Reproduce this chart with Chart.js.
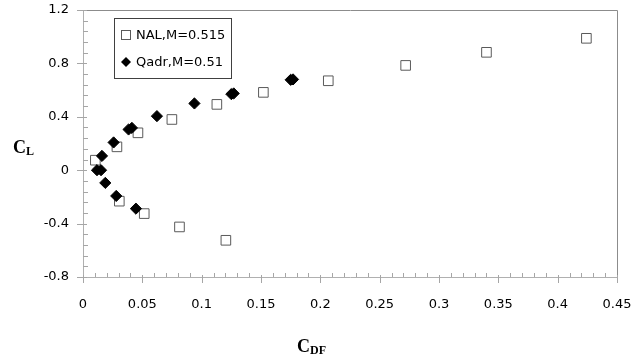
<!DOCTYPE html>
<html>
<head>
<meta charset="utf-8">
<script src="https://cdn.jsdelivr.net/npm/chart.js@4"></script>
<style>
  body { margin: 0; background: #fff; }
  #wrap { width: 644px; height: 360px; }
</style>
</head>
<body>
<div id="wrap"><canvas id="cl" width="644" height="360"></canvas></div>
<script>
// NAL, M=0.515 (open squares)
const nalCdf = [0.1204, 0.0813, 0.0516, 0.0306, 0.0104, 0.0286, 0.0463, 0.0749, 0.1128, 0.152, 0.2067, 0.2719, 0.340, 0.4242];
const nalCl  = [-0.525, -0.425, -0.325, -0.232, 0.075, 0.175, 0.28, 0.38, 0.493, 0.583, 0.67, 0.785, 0.883, 0.988];

// Qadr, M=0.51 (filled diamonds)
const qadrCdf = [0.0446, 0.028, 0.0188, 0.0118, 0.0152, 0.016, 0.0258, 0.0384, 0.0412, 0.0623, 0.0939, 0.125, 0.127, 0.175, 0.177];
const qadrCl  = [-0.288, -0.193, -0.095, 0.0, 0.0, 0.107, 0.208, 0.305, 0.317, 0.405, 0.50, 0.57, 0.575, 0.677, 0.68];

const seriesNames = ['NAL,M=0.515', 'Qadr,M=0.51'];

// axis ranges / ticks
const xMin = 0, xMax = 0.45, xMinor = 0.01, xMajor = 0.05;
const yMin = -0.8, yMax = 1.2, yMinor = 0.08, yMajor = 0.4;

const toPoints = (xs, ys) => xs.map((x, i) => ({ x: x, y: ys[i] }));
const isMajor = (v, step) => Math.abs(v / step - Math.round(v / step)) < 1e-6;
const fmt = v => String(parseFloat(v.toFixed(2)));

// draws ticks, plot frame, legend and the subscript axis titles
const excelLook = {
  id: 'excelLook',
  afterDraw(chart) {
    const ctx = chart.ctx;
    const a = chart.chartArea;
    const xs = chart.scales.x, ys = chart.scales.y;
    ctx.save();

    // top + right frame
    ctx.strokeStyle = '#8c8c8c';
    ctx.lineWidth = 1;
    ctx.beginPath();
    ctx.moveTo(Math.round(a.left) + 0.5, Math.round(a.top) + 0.5);
    ctx.lineTo(Math.round(a.right) + 0.5, Math.round(a.top) + 0.5);
    ctx.lineTo(Math.round(a.right) + 0.5, Math.round(a.bottom) + 0.5);
    ctx.stroke();

    // tick marks
    ctx.strokeStyle = '#a6a6a6';
    ctx.beginPath();
    xs.ticks.forEach(t => {
      const px = Math.round(xs.getPixelForValue(t.value)) + 0.5;
      const by = Math.round(a.bottom);
      if (isMajor(t.value, xMajor)) { ctx.moveTo(px, by - 2); ctx.lineTo(px, by + 6); }
      else { ctx.moveTo(px, by - 4); ctx.lineTo(px, by); }
    });
    ys.ticks.forEach(t => {
      const py = Math.round(ys.getPixelForValue(t.value)) + 0.5;
      const lx = Math.round(a.left);
      if (isMajor(t.value, yMajor)) { ctx.moveTo(lx - 6, py); ctx.lineTo(lx + 4, py); }
      else { ctx.moveTo(lx, py); ctx.lineTo(lx + 5, py); }
    });
    ctx.stroke();

    // legend box
    const lx = a.left + 31, ly = a.top + 8, lw = 117, lh = 60;
    ctx.fillStyle = '#fff';
    ctx.fillRect(lx, ly, lw, lh);
    ctx.strokeStyle = '#404040';
    ctx.strokeRect(Math.round(lx) + 0.5, Math.round(ly) + 0.5, lw, lh);
    ctx.font = '13px "DejaVu Sans"';
    ctx.textBaseline = 'middle';
    ctx.fillStyle = '#000';
    const rows = [ly + 17, ly + 44];
    chart.data.datasets.forEach((ds, i) => {
      const ry = rows[i];
      const mx = lx + 12;
      if (ds.pointStyle === 'rect') {
        ctx.fillStyle = '#fff';
        ctx.strokeStyle = ds.pointBorderColor;
        ctx.fillRect(mx - 4.5, ry - 4.5, 9, 9);
        ctx.strokeRect(mx - 4.5, ry - 4.5, 9, 9);
      } else {
        ctx.fillStyle = '#000';
        ctx.beginPath();
        ctx.moveTo(mx, ry - 5); ctx.lineTo(mx + 5, ry); ctx.lineTo(mx, ry + 5); ctx.lineTo(mx - 5, ry);
        ctx.closePath(); ctx.fill();
      }
      ctx.fillStyle = '#000';
      ctx.textAlign = 'left';
      ctx.fillText(ds.label, lx + 22, ry + 1);
    });

    // axis titles with subscripts
    const sub = (x, y, main, s) => {
      ctx.font = 'bold 18px "Liberation Serif"';
      ctx.textAlign = 'left';
      ctx.textBaseline = 'alphabetic';
      const w = ctx.measureText(main).width;
      ctx.fillText(main, x, y);
      ctx.font = 'bold 12px "Liberation Serif"';
      ctx.fillText(s, x + w, y + 2);
    };
    sub(13, 153, 'C', 'L');
    sub(297, 352, 'C', 'DF');

    ctx.restore();
  }
};

new Chart(document.getElementById('cl'), {
  type: 'scatter',
  data: {
    datasets: [
      {
        label: seriesNames[0],
        data: toPoints(nalCdf, nalCl),
        pointStyle: 'rect',
        pointRadius: 6.8,
        pointHoverRadius: 6.8,
        pointBackgroundColor: '#ffffff',
        pointBorderColor: '#5a5a5a',
        pointBorderWidth: 1,
        order: 2
      },
      {
        label: seriesNames[1],
        data: toPoints(qadrCdf, qadrCl),
        pointStyle: 'rectRot',
        pointRadius: 5.6,
        pointHoverRadius: 5.6,
        pointBackgroundColor: '#000000',
        pointBorderColor: '#000000',
        pointBorderWidth: 1,
        order: 1
      }
    ]
  },
  options: {
    responsive: false,
    animation: false,
    devicePixelRatio: 1,
    layout: { padding: { top: 10, right: 27, left: 0, bottom: 0 } },
    plugins: { legend: { display: false }, tooltip: { enabled: false } },
    scales: {
      x: {
        type: 'linear',
        min: xMin, max: xMax,
        afterFit: s => { s.height = 83; s.paddingLeft = 0; s.paddingRight = 0; },
        grid: { display: false, drawTicks: false },
        border: { display: true, color: '#b0b0b0', width: 1 },
        ticks: {
          stepSize: xMinor,
          autoSkip: false,
          maxRotation: 0,
          padding: 20,
          color: '#000',
          font: { family: 'DejaVu Sans', size: 13 },
          callback: v => isMajor(v, xMajor) ? fmt(v) : ''
        }
      },
      y: {
        type: 'linear',
        min: yMin, max: yMax,
        afterFit: s => { s.width = 83; s.paddingTop = 0; s.paddingBottom = 0; },
        grid: { display: false, drawTicks: false },
        border: { display: true, color: '#b0b0b0', width: 1 },
        ticks: {
          stepSize: yMinor,
          autoSkip: false,
          padding: 14,
          color: '#000',
          font: { family: 'DejaVu Sans', size: 13 },
          callback: v => isMajor(v, yMajor) ? fmt(v) : ''
        }
      }
    }
  },
  plugins: [excelLook]
});
</script>
</body>
</html>
